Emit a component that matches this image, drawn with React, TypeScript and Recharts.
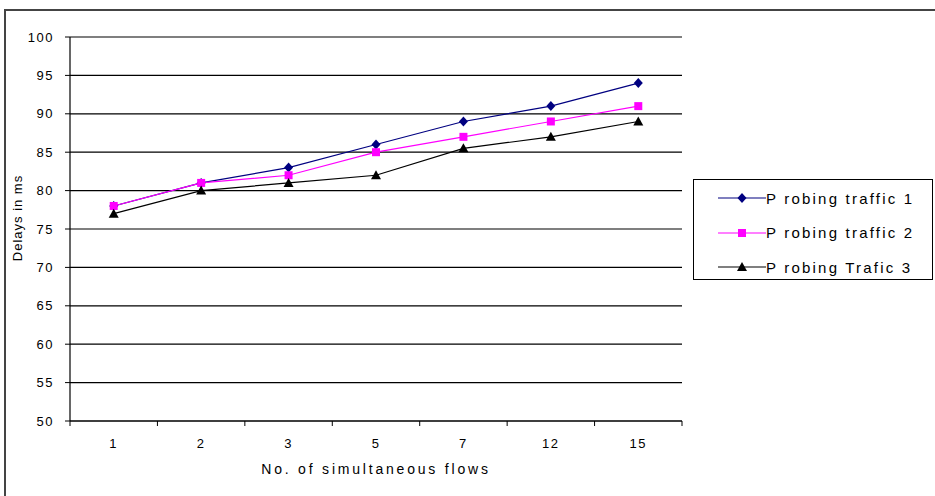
import React from "react";
import { LineChart, Line, XAxis, YAxis, CartesianGrid } from "recharts";

// delay (ms) per number of simultaneous flows
const flows = ["1", "2", "3", "5", "7", "12", "15"];
const traffic1 = [78, 81, 83, 86, 89, 91, 94];
const traffic2 = [78, 81, 82, 85, 87, 89, 91];
const traffic3 = [77, 80, 81, 82, 85.5, 87, 89];
const yTicks = [50, 55, 60, 65, 70, 75, 80, 85, 90, 95, 100];

const seriesNames = ["P robing traffic 1", "P robing traffic 2", "P robing Trafic 3"];
const seriesColors = ["#000080", "#ff00ff", "#000000"];

const data = flows.map((f, i) => ({
  flows: f,
  t1: traffic1[i],
  t2: traffic2[i],
  t3: traffic3[i],
}));

const WIDTH = 935;
const HEIGHT = 496;
const PLOT_LEFT = 70;
const PLOT_RIGHT = 682;
const BAND = (PLOT_RIGHT - PLOT_LEFT) / flows.length;
const FONT = "'Liberation Sans', Arial, sans-serif";

const Diamond = ({ cx, cy, color }: any) => (
  <polygon
    points={`${cx},${cy - 5} ${cx + 4.5},${cy} ${cx},${cy + 5} ${cx - 4.5},${cy}`}
    fill={color}
  />
);

const Square = ({ cx, cy, color }: any) => (
  <rect x={cx - 4} y={cy - 4} width={8} height={8} fill={color} />
);

const Triangle = ({ cx, cy, color }: any) => (
  <polygon
    points={`${cx},${cy - 5} ${cx + 5},${cy + 4} ${cx - 5},${cy + 4}`}
    fill={color}
  />
);

const markers = [Diamond, Square, Triangle];

// category labels sit mid-band, tick marks on the band edges
const FlowTick = (props: any) => {
  const { x, y, payload, index } = props;
  const half = BAND / 2;
  const last = index === flows.length - 1;
  return (
    <g>
      <line x1={x - half} y1={y} x2={x - half} y2={y + 5} stroke="#000" />
      {last && <line x1={x + half} y1={y} x2={x + half} y2={y + 5} stroke="#000" />}
      <text
        x={x}
        y={y + 27}
        textAnchor="middle"
        fontSize={13}
        letterSpacing={1.5}
        fill="#000"
        fontFamily={FONT}
      >
        {payload.value}
      </text>
    </g>
  );
};

const LegendBox = () => (
  <div
    style={{
      position: "absolute",
      left: 693,
      top: 179,
      width: 238,
      height: 99,
      border: "1px solid #000",
      background: "#fff",
      fontFamily: FONT,
    }}
  >
    {seriesNames.map((name, i) => {
      const Marker = markers[i];
      return (
        <div
          key={name}
          style={{
            position: "absolute",
            left: 24,
            top: 8 + i * 34.5,
            height: 20,
            display: "flex",
            alignItems: "center",
            whiteSpace: "nowrap",
          }}
        >
          <svg width={48} height={20}>
            <line x1={0} y1={10} x2={48} y2={10} stroke={seriesColors[i]} strokeWidth={1.2} />
            <Marker cx={24} cy={10} color={seriesColors[i]} />
          </svg>
          <span style={{ fontSize: 15, letterSpacing: 2.2, color: "#000" }}>{name}</span>
        </div>
      );
    })}
  </div>
);

export default function App() {
  return (
    <div
      style={{
        position: "absolute",
        left: 0,
        top: 0,
        width: WIDTH,
        height: HEIGHT,
        background: "#fff",
        overflow: "hidden",
      }}
    >
      <div
        style={{
          position: "absolute",
          left: 4,
          top: 9,
          width: WIDTH,
          height: HEIGHT,
          borderTop: "2px solid #444",
          borderLeft: "2px solid #444",
        }}
      />
      <LineChart
        width={WIDTH}
        height={HEIGHT}
        data={data}
        margin={{ top: 37, right: WIDTH - PLOT_RIGHT, bottom: 45, left: 0 }}
      >
        <CartesianGrid vertical={false} stroke="#000" strokeWidth={1.2} />
        <XAxis
          dataKey="flows"
          height={30}
          padding={{ left: BAND / 2, right: BAND / 2 }}
          axisLine={{ stroke: "#000", strokeWidth: 1.2 }}
          tickLine={false}
          tickSize={0}
          tickMargin={0}
          interval={0}
          tick={<FlowTick />}
          label={{
            value: "No. of simultaneous flows",
            position: "bottom",
            offset: 13,
            fontSize: 14,
            letterSpacing: 2.8,
            fill: "#000",
            fontFamily: FONT,
          }}
        />
        <YAxis
          width={PLOT_LEFT}
          domain={[50, 100]}
          ticks={yTicks}
          interval={0}
          axisLine={{ stroke: "#000", strokeWidth: 1.2 }}
          tickLine={{ stroke: "#000" }}
          tickSize={5}
          tickMargin={11}
          tick={{ fontSize: 13, fill: "#000", fontFamily: FONT, letterSpacing: 1.5 }}
        />
        {["t1", "t2", "t3"].map((key, i) => {
          const Marker = markers[i];
          return (
            <Line
              key={key}
              type="linear"
              dataKey={key}
              name={seriesNames[i]}
              stroke={seriesColors[i]}
              strokeWidth={1.2}
              dot={(p: any) => <Marker key={`${key}-${p.index}`} cx={p.cx} cy={p.cy} color={seriesColors[i]} />}
              activeDot={false}
              isAnimationActive={false}
            />
          );
        })}
      </LineChart>
      <svg
        width={40}
        height={HEIGHT}
        style={{ position: "absolute", left: 0, top: 0, pointerEvents: "none" }}
      >
        <text
          x={0}
          y={0}
          transform="translate(22 218) rotate(-90)"
          textAnchor="middle"
          fontSize={13}
          letterSpacing={1}
          fill="#000"
          fontFamily={FONT}
        >
          Delays in ms
        </text>
      </svg>
      <LegendBox />
    </div>
  );
}
